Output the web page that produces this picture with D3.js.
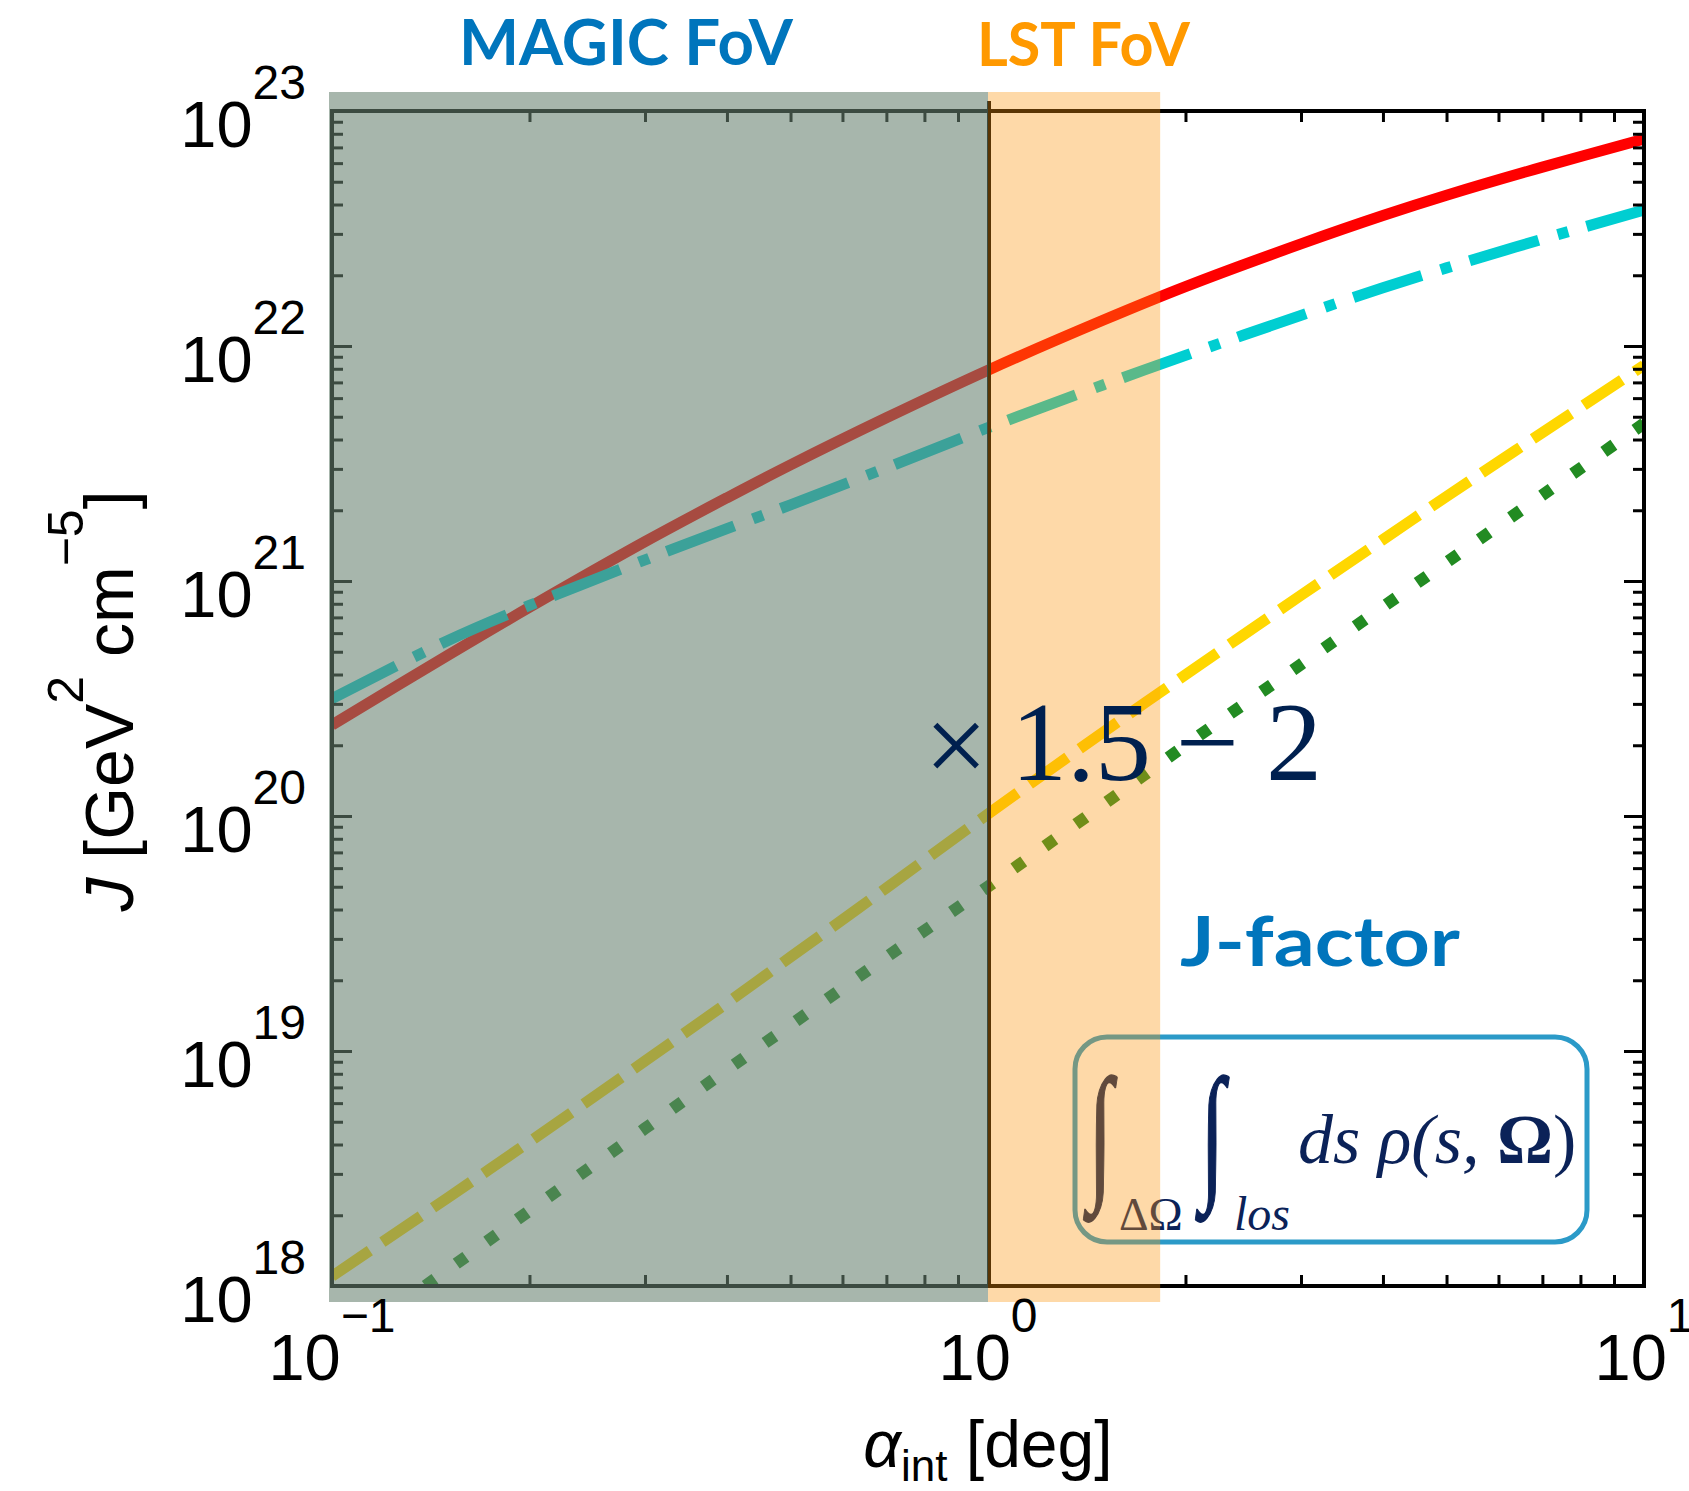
<!DOCTYPE html>
<html>
<head>
<meta charset="utf-8">
<script src="https://cdn.jsdelivr.net/npm/d3@7"></script>
<style>
  html, body { margin: 0; padding: 0; background: #ffffff; }
  svg { display: block; }
</style>
</head>
<body>
<script>
// Integration angle alpha_int [deg]
const alpha = [0.1, 0.15, 0.2, 0.3, 0.4, 0.5, 0.7, 1, 1.5, 2, 3, 4, 5, 7, 10];

// J-factor [GeV^2 cm^-5] for the four profiles
const jSolid   = [2.44e20, 4.82e20, 7.73e20, 1.47e21, 2.26e21, 3.12e21, 4.95e21, 7.89e21,
                  1.29e22, 1.79e22, 2.72e22, 3.59e22, 4.38e22, 5.77e22, 7.59e22];
const jDashDot = [3.16e20, 5.57e20, 7.87e20, 1.23e21, 1.67e21, 2.11e21, 3.03e21, 4.49e21,
                  6.84e21, 9.12e21, 1.35e22, 1.77e22, 2.15e22, 2.85e22, 3.79e22];
const jDashed  = [1.10e18, 2.37e18, 4.11e18, 9.06e18, 1.60e19, 2.51e19, 4.94e19, 1.02e20,
                  2.28e20, 3.99e20, 8.69e20, 1.50e21, 2.29e21, 4.28e21, 8.28e21];
const jDotted  = [5.25e17, 1.17e18, 2.09e18, 4.68e18, 8.32e18, 1.29e19, 2.51e19, 5.01e19,
                  1.12e20, 2.00e20, 4.42e20, 7.76e20, 1.20e21, 2.32e21, 4.68e21];

// Fields of view (integration radius, deg)
const fovMagic = 1.0;
const fovLst = 1.83;

// Axis ticks
const xMajor = [0.1, 1, 10];
const xMinor = [0.2, 0.3, 0.4, 0.5, 0.6, 0.7, 0.8, 0.9, 2, 3, 4, 5, 6, 7, 8, 9];
const yExponents = [18, 19, 20, 21, 22, 23];
const xExponents = [-1, 0, 1];

const W = 1689, H = 1491;
const svg = d3.select("body").append("svg").attr("width", W).attr("height", H);

const x = d3.scaleLog().domain([0.1, 10]).range([332, 1644]);
const y = d3.scaleLog().domain([1e18, 1e23]).range([1286, 111]);

const yMajor = yExponents.map(e => Math.pow(10, e));
const yMinor = [];
for (let e = 18; e < 23; e++) for (let m = 2; m <= 9; m++) yMinor.push(m * Math.pow(10, e));

const pBottom = y(1e18), pTop = y(1e23), pLeft = x(0.1), pRight = x(10);

svg.append("defs").append("clipPath").attr("id", "plotClip")
  .append("rect")
  .attr("x", pLeft).attr("y", pTop)
  .attr("width", pRight - pLeft).attr("height", pBottom - pTop);

// Curves
const line = d3.line()
  .x(d => x(d[0])).y(d => y(d[1]))
  .curve(d3.curveCatmullRom.alpha(0.5));

const series = [
  { data: jSolid,   color: "#ff0000", dash: null,            width: 11 },
  { data: jDashDot, color: "#00ced1", dash: "72,20,11,19",   width: 11 },
  { data: jDashed,  color: "#ffd700", dash: "46,15",         width: 11 },
  { data: jDotted,  color: "#228b22", dash: "12,26",         width: 12 }
];

const curves = svg.append("g").attr("clip-path", "url(#plotClip)");
series.forEach(s => {
  curves.append("path")
    .datum(alpha.map((a, i) => [a, s.data[i]]))
    .attr("d", line)
    .attr("fill", "none")
    .attr("stroke", s.color)
    .attr("stroke-width", s.width)
    .attr("stroke-linecap", "butt")
    .attr("stroke-linejoin", "round")
    .attr("stroke-dasharray", s.dash);
});

// Axes with inward ticks
function styleAxis(g) {
  g.select(".domain").remove();
  g.selectAll(".tick line").attr("stroke", "#000").attr("stroke-width", 3);
  g.selectAll(".tick text").remove();
}
const axes = svg.append("g");
[[xMajor, 20], [xMinor, 11]].forEach(([vals, len]) => {
  axes.append("g").attr("transform", `translate(0,${pBottom})`)
    .call(d3.axisBottom(x).tickValues(vals).tickSizeInner(-len).tickSizeOuter(0).tickFormat(""))
    .call(styleAxis);
  axes.append("g").attr("transform", `translate(0,${pTop})`)
    .call(d3.axisTop(x).tickValues(vals).tickSizeInner(-len).tickSizeOuter(0).tickFormat(""))
    .call(styleAxis);
});
[[yMajor, 20], [yMinor, 11]].forEach(([vals, len]) => {
  axes.append("g").attr("transform", `translate(${pLeft},0)`)
    .call(d3.axisLeft(y).tickValues(vals).tickSizeInner(-len).tickSizeOuter(0).tickFormat(""))
    .call(styleAxis);
  axes.append("g").attr("transform", `translate(${pRight},0)`)
    .call(d3.axisRight(y).tickValues(vals).tickSizeInner(-len).tickSizeOuter(0).tickFormat(""))
    .call(styleAxis);
});
axes.append("rect")
  .attr("x", pLeft).attr("y", pTop)
  .attr("width", pRight - pLeft).attr("height", pBottom - pTop)
  .attr("fill", "none").attr("stroke", "#000").attr("stroke-width", 4);

// MAGIC field-of-view edge
svg.append("line")
  .attr("x1", x(fovMagic) + 1).attr("x2", x(fovMagic) + 1)
  .attr("y1", pTop - 10).attr("y2", pBottom)
  .attr("stroke", "#000").attr("stroke-width", 4);

// J-factor definition box
const serif = "'Liberation Serif', 'Times New Roman', serif";
const navy = "#0b2258";
const box = svg.append("g").attr("font-family", serif).attr("fill", navy);
box.append("rect")
  .attr("x", 1075).attr("y", 1037).attr("width", 512).attr("height", 205)
  .attr("rx", 32).attr("ry", 32)
  .attr("fill", "none").attr("stroke", "#2b9ac8").attr("stroke-width", 5);
box.append("text").attr("transform", "translate(1088,1182) scale(0.6,1)")
  .attr("font-size", 150).attr("stroke", navy).attr("stroke-width", 1.5).text("\u222B");
box.append("text").attr("x", 1119).attr("y", 1230)
  .attr("font-size", 46).text("\u0394\u03A9");
box.append("text").attr("transform", "translate(1200,1182) scale(0.6,1)")
  .attr("font-size", 150).attr("stroke", navy).attr("stroke-width", 1.5).text("\u222B");
box.append("text").attr("x", 1234).attr("y", 1230)
  .attr("font-style", "italic").attr("font-size", 48).text("los");
const f = box.append("text").attr("x", 1298).attr("y", 1163)
  .attr("font-size", 70);
f.append("tspan").attr("font-style", "italic").text("ds \u03C1(s, ");
f.append("tspan").attr("font-weight", "bold").text("\u03A9");
f.append("tspan").text(")");

// Field-of-view shading
svg.append("rect")
  .attr("x", pLeft - 3).attr("y", pTop - 19)
  .attr("width", x(fovMagic) - pLeft + 3).attr("height", pBottom - pTop + 35)
  .attr("fill", "rgb(103,129,112)").attr("fill-opacity", 0.58);
svg.append("rect")
  .attr("x", x(fovMagic)).attr("y", pTop - 19)
  .attr("width", x(fovLst) - x(fovMagic)).attr("height", pBottom - pTop + 35)
  .attr("fill", "rgb(252,148,11)").attr("fill-opacity", 0.357);

// Tick labels
const sans = "'Liberation Sans', Arial, Helvetica, sans-serif";
yExponents.forEach(e => {
  const t = svg.append("text")
    .attr("x", 306).attr("y", y(Math.pow(10, e)) + 36)
    .attr("text-anchor", "end").attr("font-family", sans).attr("font-size", 65).attr("fill", "#000");
  t.append("tspan").text("10");
  t.append("tspan").attr("dy", -48).attr("font-size", 48).text(String(e));
});
xExponents.forEach(e => {
  const t = svg.append("text")
    .attr("x", x(Math.pow(10, e))).attr("y", 1380)
    .attr("text-anchor", "middle").attr("font-family", sans).attr("font-size", 65).attr("fill", "#000");
  t.append("tspan").text("10");
  t.append("tspan").attr("dy", -48).attr("font-size", 48).text(String(e).replace("-", "\u2212"));
});

// Axis titles
const xt = svg.append("text")
  .attr("x", (pLeft + pRight) / 2).attr("y", 1467)
  .attr("text-anchor", "middle").attr("font-family", sans).attr("font-size", 66).attr("fill", "#000");
xt.append("tspan").attr("font-style", "italic").text("\u03B1");
xt.append("tspan").attr("font-size", 44).attr("dy", 14).text("int");
xt.append("tspan").attr("dy", -14).text(" [deg]");

const yt = svg.append("text")
  .attr("transform", "translate(133,701) rotate(-90)")
  .attr("text-anchor", "middle").attr("font-family", sans).attr("font-size", 68).attr("fill", "#000");
yt.append("tspan").attr("font-style", "italic").text("J");
yt.append("tspan").text(" [GeV");
yt.append("tspan").attr("font-size", 50).attr("dy", -50).text("2");
yt.append("tspan").attr("dy", 50).text(" cm");
yt.append("tspan").attr("font-size", 50).attr("dy", -50).text("\u22125");
yt.append("tspan").attr("dy", 50).text("]");

// Annotations
const boldSans = "Lato, 'Open Sans', sans-serif";
svg.append("text").attr("x", 459).attr("y", 65)
  .attr("font-family", boldSans).attr("font-weight", "bold").attr("font-size", 64)
  .attr("fill", "#0075bc").attr("textLength", 334).attr("lengthAdjust", "spacingAndGlyphs")
  .text("MAGIC FoV");
svg.append("text").attr("x", 977).attr("y", 66)
  .attr("font-family", boldSans).attr("font-weight", "bold").attr("font-size", 62)
  .attr("fill", "#ff9900").attr("textLength", 213).attr("lengthAdjust", "spacingAndGlyphs")
  .text("LST FoV");
svg.append("text").attr("x", 1180).attr("y", 966)
  .attr("font-family", boldSans).attr("font-weight", "bold").attr("font-size", 68)
  .attr("fill", "#0075bc").attr("textLength", 280).attr("lengthAdjust", "spacingAndGlyphs")
  .text("J-factor");

const mult = svg.append("g").attr("font-family", serif).attr("font-size", 112).attr("fill", "#00204f");
mult.append("text").attr("x", 956).attr("y", 783).attr("text-anchor", "middle").text("\u00D7");
mult.append("text").attr("x", 1011).attr("y", 780).text("1.5");
mult.append("text").attr("x", 1207).attr("y", 780).attr("text-anchor", "middle").text("\u2212");
mult.append("text").attr("x", 1294).attr("y", 780).attr("text-anchor", "middle").text("2");
</script>
</body>
</html>
